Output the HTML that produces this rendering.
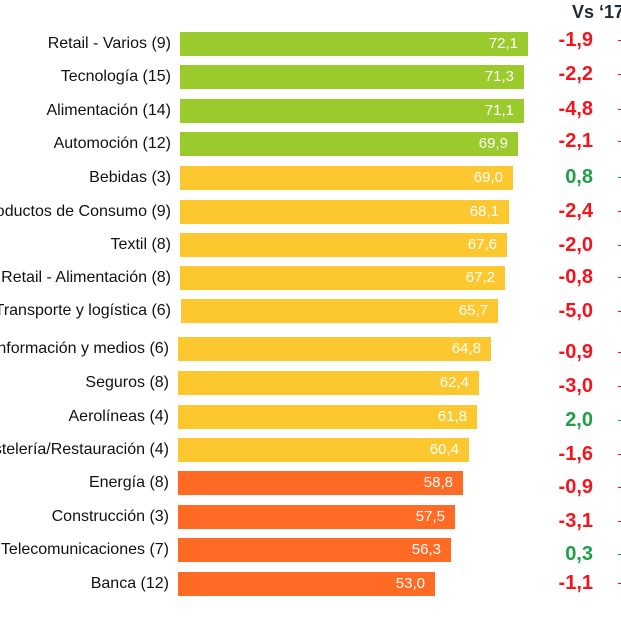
<!DOCTYPE html>
<html><head><meta charset="utf-8">
<style>
html,body{margin:0;padding:0;background:#fff;}
body{width:621px;height:621px;position:relative;overflow:hidden;font-family:"Liberation Sans",Arial,sans-serif;}
.lab{position:absolute;height:24px;line-height:24px;font-size:16px;color:#111;text-align:right;white-space:nowrap;width:400px;}
.bar{position:absolute;height:24px;}
.val{position:absolute;right:10px;top:0;line-height:24px;font-size:15px;color:#fff;white-space:nowrap;}
.d{position:absolute;height:24px;line-height:24px;font-size:20px;font-weight:bold;text-align:right;width:80px;left:513px;white-space:nowrap;}
.r{color:#f5141e;}
.g{color:#1f9e47;}
.m{position:absolute;left:618px;width:3px;height:1px;}
.G{background:#9aca2b;}
.Y{background:#fdc82f;}
.O{background:#ff6a24;}
.hdr{position:absolute;left:572px;top:2px;font-size:18px;font-weight:bold;color:#1e2838;white-space:nowrap;}
</style></head><body>
<div class="hdr">Vs ‘17</div>

<div class="lab" style="left:-229px;top:32px">Retail - Varios (9)</div>
<div class="bar G" style="left:180px;top:32px;width:348px"><span class="val">72,1</span></div>
<div class="d r" style="top:28px">-1,9</div>
<div class="m" style="top:40px;background:#f5141e"></div>

<div class="lab" style="left:-229px;top:65px">Tecnología (15)</div>
<div class="bar G" style="left:180px;top:65px;width:344px"><span class="val">71,3</span></div>
<div class="d r" style="top:62px">-2,2</div>
<div class="m" style="top:74px;background:#f5141e"></div>

<div class="lab" style="left:-229px;top:99px">Alimentación (14)</div>
<div class="bar G" style="left:180px;top:99px;width:344px"><span class="val">71,1</span></div>
<div class="d r" style="top:97px">-4,8</div>
<div class="m" style="top:109px;background:#f5141e"></div>

<div class="lab" style="left:-229px;top:132px">Automoción (12)</div>
<div class="bar G" style="left:180px;top:132px;width:338px"><span class="val">69,9</span></div>
<div class="d r" style="top:129px">-2,1</div>
<div class="m" style="top:141px;background:#f5141e"></div>

<div class="lab" style="left:-229px;top:166px">Bebidas (3)</div>
<div class="bar Y" style="left:180px;top:166px;width:333px"><span class="val">69,0</span></div>
<div class="d g" style="top:165px">0,8</div>
<div class="m" style="top:177px;background:#1f9e47"></div>

<div class="lab" style="left:-229px;top:200px">Productos de Consumo (9)</div>
<div class="bar Y" style="left:180px;top:200px;width:329px"><span class="val">68,1</span></div>
<div class="d r" style="top:199px">-2,4</div>
<div class="m" style="top:211px;background:#f5141e"></div>

<div class="lab" style="left:-229px;top:233px">Textil (8)</div>
<div class="bar Y" style="left:180px;top:233px;width:327px"><span class="val">67,6</span></div>
<div class="d r" style="top:233px">-2,0</div>
<div class="m" style="top:245px;background:#f5141e"></div>

<div class="lab" style="left:-229px;top:266px">Retail - Alimentación (8)</div>
<div class="bar Y" style="left:180px;top:266px;width:325px"><span class="val">67,2</span></div>
<div class="d r" style="top:265px">-0,8</div>
<div class="m" style="top:277px;background:#f5141e"></div>

<div class="lab" style="left:-229px;top:299px">Transporte y logística (6)</div>
<div class="bar Y" style="left:181px;top:299px;width:317px"><span class="val">65,7</span></div>
<div class="d r" style="top:299px">-5,0</div>
<div class="m" style="top:311px;background:#f5141e"></div>

<div class="lab" style="left:-231px;top:337px">Información y medios (6)</div>
<div class="bar Y" style="left:178px;top:337px;width:313px"><span class="val">64,8</span></div>
<div class="d r" style="top:340px">-0,9</div>
<div class="m" style="top:352px;background:#f5141e"></div>

<div class="lab" style="left:-231px;top:371px">Seguros (8)</div>
<div class="bar Y" style="left:178px;top:371px;width:301px"><span class="val">62,4</span></div>
<div class="d r" style="top:374px">-3,0</div>
<div class="m" style="top:386px;background:#f5141e"></div>

<div class="lab" style="left:-231px;top:405px">Aerolíneas (4)</div>
<div class="bar Y" style="left:178px;top:405px;width:299px"><span class="val">61,8</span></div>
<div class="d g" style="top:408px">2,0</div>
<div class="m" style="top:420px;background:#1f9e47"></div>

<div class="lab" style="left:-231px;top:438px">Hostelería/Restauración (4)</div>
<div class="bar Y" style="left:178px;top:438px;width:291px"><span class="val">60,4</span></div>
<div class="d r" style="top:442px">-1,6</div>
<div class="m" style="top:454px;background:#f5141e"></div>

<div class="lab" style="left:-231px;top:471px">Energía (8)</div>
<div class="bar O" style="left:178px;top:471px;width:285px"><span class="val">58,8</span></div>
<div class="d r" style="top:475px">-0,9</div>
<div class="m" style="top:487px;background:#f5141e"></div>

<div class="lab" style="left:-231px;top:505px">Construcción (3)</div>
<div class="bar O" style="left:178px;top:505px;width:277px"><span class="val">57,5</span></div>
<div class="d r" style="top:509px">-3,1</div>
<div class="m" style="top:521px;background:#f5141e"></div>

<div class="lab" style="left:-231px;top:538px">Telecomunicaciones (7)</div>
<div class="bar O" style="left:178px;top:538px;width:273px"><span class="val">56,3</span></div>
<div class="d g" style="top:542px">0,3</div>
<div class="m" style="top:554px;background:#1f9e47"></div>

<div class="lab" style="left:-231px;top:572px">Banca (12)</div>
<div class="bar O" style="left:178px;top:572px;width:257px"><span class="val">53,0</span></div>
<div class="d r" style="top:571px">-1,1</div>
<div class="m" style="top:583px;background:#f5141e"></div>

</body></html>
